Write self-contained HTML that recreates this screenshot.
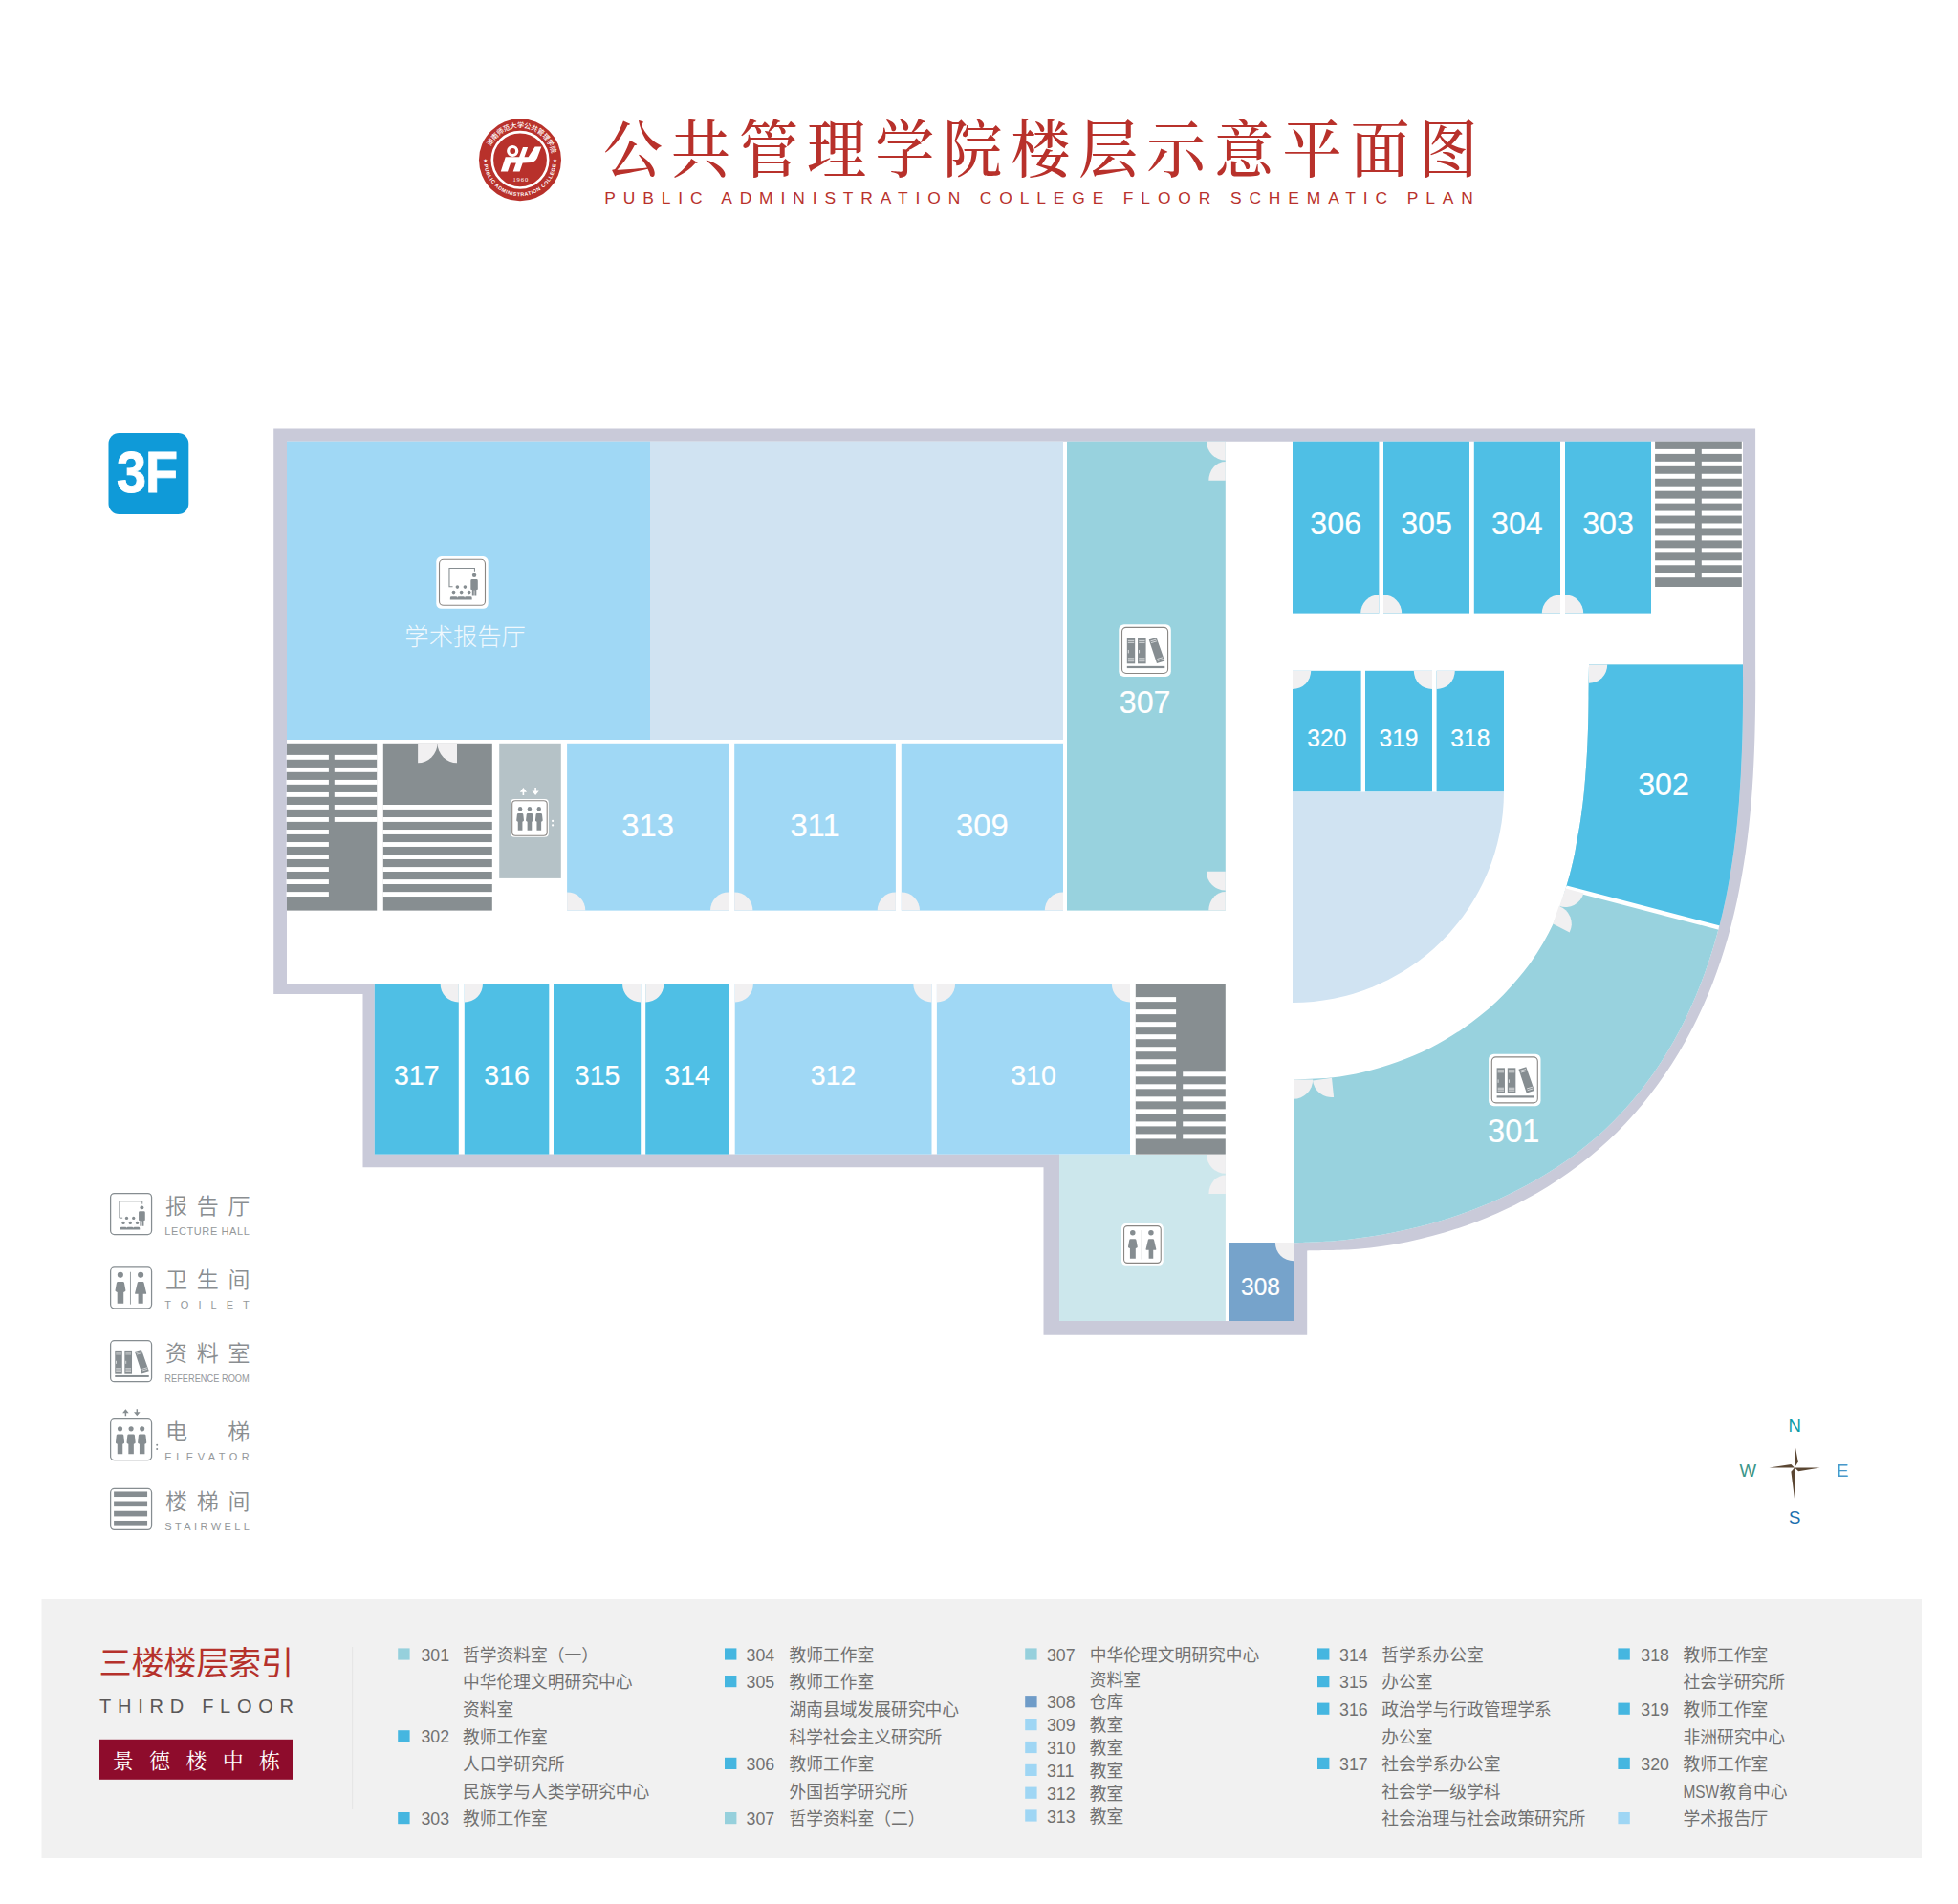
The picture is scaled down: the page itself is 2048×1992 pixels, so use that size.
<!DOCTYPE html>
<html lang="zh-CN"><head><meta charset="utf-8"><title>公共管理学院楼层示意平面图 3F</title>
<style>html,body{margin:0;padding:0;background:#fff}body{width:2048px;height:1992px;overflow:hidden}svg{display:block}text{font-family:"Liberation Sans","Noto Sans CJK SC",sans-serif}.ser{font-family:"Liberation Serif","Noto Serif CJK SC",serif}.rm{fill:#fff;text-anchor:middle;stroke:#fff;stroke-width:.2px}.ix{font-size:17.75px;fill:#717171}.lg{font-size:23px;fill:#8a8e91;font-weight:350}.le{font-size:11px;fill:#94989b}</style></head><body>
<svg width="2048" height="1992" viewBox="0 0 2048 1992">
<rect width="2048" height="1992" fill="#fff"/>
<defs>
<g id="i-lect"><path d="M76.4 26.4V19.9H22.4V59.2H29.7" fill="none" stroke="#868d91" stroke-width="2.2"/><g fill="#868d91"><circle cx="75.6" cy="34.8" r="4.5"/><path d="M70.8 43.5h9.6q2.8 0 2.8 2.8v17.7q0 1.6-1.6 1.6h-1.4v13.1h-4v-12h-1.2v12h-4V65.6h-1.4q-1.6 0-1.6-1.6V46.3q0-2.8 2.8-2.8z"/><circle cx="39.6" cy="59.8" r="3.7"/><circle cx="55.9" cy="59.8" r="3.7"/><circle cx="31.7" cy="71" r="3.7"/><circle cx="48.2" cy="71" r="3.7"/><circle cx="64.6" cy="71" r="3.7"/><path d="M24.2 87.2v-3.5q0-3 3-3h9.5q3 0 3 3q0-3 3-3h9.5q3 0 3 3q0-3 3-3h9.5q3 0 3 3v3.5z"/></g></g>
<g id="i-book"><g fill="#868d91"><rect x="11.9" y="24.4" width="17" height="53.8"/><rect x="34.7" y="24.4" width="17.4" height="53.8"/><path d="M58.5 27.1L74.5 22.4L92.2 72.5L75.3 77.6z"/><rect x="11.9" y="83.4" width="80.3" height="4.5"/></g><g stroke="#fff" stroke-width="1.5" opacity=".9"><path d="M14 29.5h13M14 33.5h13M37 29.5h13M37 33.5h13M14 67h13M14 70h13M14 73h13M37 67h13M37 70h13M37 73h13"/><path d="M62 30.5l12-3.6M63.3 34l12-3.6M76 68.5l12-3.6M77.2 72l12-3.6"/></g><g fill="#fff" opacity=".8"><rect x="14" y="49" width="1.8" height="7"/><rect x="37" y="49" width="1.8" height="7"/></g></g>
<g id="i-toil"><path d="M48.6 12.4V89" stroke="#868d91" stroke-width="1.9"/><g fill="#868d91"><circle cx="24.6" cy="19.4" r="6.9"/><circle cx="72.7" cy="19.4" r="6.9"/><path d="M18.6 35.6h12q2.8 0 3.3 2.8l3.2 17.5q.3 2-1.6 2.8l-3.3 1.5V87.2H17.4V60.2l-3.3-1.5q-1.9-.8-1.6-2.8l3.2-17.5q.5-2.8 3.3-2.8z"/><path d="M67.6 35.6h10.3q2 0 2.5 2L86.3 62.6q.4 2-1.6 2H78.5V87.2H66.9V64.6H60.7q-2 0-1.6-2L65.1 37.6q.5-2 2.5-2z"/></g></g>
<g id="i-elev"><g fill="#868d91"><circle cx="23.8" cy="24.3" r="5.8"/><path d="M18.3 36.9h11q2.5 0 3 2.5l1.8 17q.2 2-1.5 2.6l-2.6 1.4V84H17.6V60.4l-2.6-1.4q-1.7-.6-1.5-2.6l1.8-17q.5-2.5 3-2.5z"/><circle cx="50.0" cy="24.3" r="5.8"/><path d="M44.5 36.9h11q2.5 0 3 2.5l1.8 17q.2 2-1.5 2.6l-2.6 1.4V84H43.8V60.4l-2.6-1.4q-1.7-.6-1.5-2.6l1.8-17q.5-2.5 3-2.5z"/><circle cx="76.2" cy="24.3" r="5.8"/><path d="M70.7 36.9h11q2.5 0 3 2.5l1.8 17q.2 2-1.5 2.6l-2.6 1.4V84H70.0V60.4l-2.6-1.4q-1.7-.6-1.5-2.6l1.8-17q.5-2.5 3-2.5z"/></g></g>
<path id="arr" d="M0.5 0L1 0.58H0.61V1H0.39V0.58H0z"/>
<g id="i-stair"><g fill="#868d91"><rect x="9.3" y="8.3" width="79.1" height="12.6"/><rect x="9.3" y="31" width="79.1" height="12.8"/><rect x="9.3" y="54.2" width="79.1" height="12.8"/><rect x="9.3" y="77.3" width="79.1" height="12.8"/></g></g>
</defs>
<g id="logo">
<circle cx="544.0" cy="167.3" r="43" fill="#b8312b"/>
<circle cx="544.0" cy="167.3" r="29.2" fill="none" stroke="#fff" stroke-width="2.6"/>
<circle cx="536.2" cy="158" r="4.5" fill="none" stroke="#fff" stroke-width="3.2"/>
<path d="M528.7 164.3H543.1L547 154H552.1L548.5 164.3H552.6L559.6 153.5H566.3L561.9 165.3Q559.5 169.6 555.7 170L546.7 170.5L543.6 179.5H536.7L539.8 170.5H534.1L531 179.5H523.8z" fill="#fff"/>
<path id="arcT" d="M513.46 153.06A33.7 33.7 0 0 1 576.96 160.29" fill="none"/>
<path id="arcB" d="M506.33 172.26A38 38 0 0 0 581.67 172.26" fill="none"/>
<text font-size="7.2" fill="#fff" font-weight="500"><textPath href="#arcT" textLength="84.1" lengthAdjust="spacing">湖南师范大学公共管理学院</textPath></text>
<text font-size="5.3" fill="#fff" font-weight="bold"><textPath href="#arcB" textLength="109.4" lengthAdjust="spacing">PUBLIC ADMINISTRATION COLLEGE</textPath></text>
<text x="507.8" y="169.3" font-size="4.5" fill="#fff" text-anchor="middle">★</text><text x="580.6" y="169.3" font-size="4.5" fill="#fff" text-anchor="middle">★</text>
<text class="ser" x="544.8" y="190.2" font-size="6.6" fill="#fff" text-anchor="middle" letter-spacing="0.9">1960</text>
</g>
<text class="ser" transform="translate(631 179.6) scale(0.94 1)" font-size="66" font-weight="500" fill="#b8312b" letter-spacing="9.58">公共管理学院楼层示意平面图</text>
<text x="632.3" y="213" font-size="17.4" fill="#b8312b" textLength="908.5" lengthAdjust="spacing">PUBLIC ADMINISTRATION COLLEGE FLOOR SCHEMATIC PLAN</text>
<rect x="113.5" y="453" width="83.8" height="85" rx="11" fill="#0f9ad8"/>
<text transform="translate(153.6 514.8) scale(0.9 1)" font-size="62" font-weight="bold" fill="#fff" stroke="#fff" stroke-width="0.9" text-anchor="middle" letter-spacing="-1">3F</text>
<path d="M286.2 448.6H1836.1V680C1836.1 688.8 1836.3 715.1 1836.1 732.7C1835.9 750.3 1835.6 767.9 1834.9 785.5C1834.2 803.1 1833.3 820.7 1831.8 838.2C1830.3 855.7 1828.5 873.2 1826.0 890.6C1823.5 908.0 1820.5 925.3 1816.8 942.4C1813.1 959.5 1808.8 976.5 1803.6 993.2C1798.4 1009.9 1792.5 1026.5 1785.7 1042.6C1778.9 1058.7 1771.1 1074.7 1762.5 1090.0C1753.9 1105.3 1744.3 1120.4 1734.0 1134.6C1723.7 1148.8 1712.4 1162.6 1700.4 1175.3C1688.4 1188.0 1675.4 1200.0 1661.8 1211.0C1648.2 1222.0 1633.8 1232.2 1618.9 1241.4C1604.0 1250.6 1588.5 1258.9 1572.6 1266.3C1556.7 1273.7 1540.1 1280.1 1523.4 1285.6C1506.7 1291.1 1489.5 1295.7 1472.3 1299.2C1455.1 1302.7 1437.5 1305.3 1420.0 1306.8C1402.5 1308.3 1376.0 1308.1 1367.2 1308.4V1396.8H1091.5V1221.3H379.5V1040.1H286.2Z" fill="#c9cad9"/>
<path d="M300 461.7H1823V680C1823.0 688.8 1823.2 715.0 1823.0 732.5C1822.8 750.0 1822.6 767.5 1821.9 785.0C1821.2 802.5 1820.4 820.0 1819.0 837.5C1817.6 855.0 1815.9 872.5 1813.5 889.8C1811.1 907.1 1808.3 924.4 1804.7 941.4C1801.1 958.4 1796.9 975.4 1791.8 992.0C1786.7 1008.6 1780.9 1025.1 1774.1 1041.2C1767.3 1057.3 1759.7 1073.2 1751.1 1088.4C1742.5 1103.6 1733.0 1118.5 1722.5 1132.5C1712.0 1146.5 1700.7 1159.9 1688.4 1172.3C1676.1 1184.7 1662.8 1196.2 1648.9 1206.7C1635.0 1217.2 1620.2 1226.8 1605.0 1235.5C1589.8 1244.2 1574.0 1251.9 1557.9 1258.8C1541.8 1265.7 1525.2 1271.7 1508.4 1276.8C1491.6 1281.9 1474.4 1286.2 1457.2 1289.6C1440.0 1293.0 1422.6 1295.6 1405.2 1297.4C1387.8 1299.2 1361.7 1299.8 1353.0 1300.3V1382H1108V1207.6H391.8V1029.3H300Z" fill="#fff"/>
<rect x="300.0" y="461.7" width="380.0" height="312.3" fill="#a0d8f5"/>
<rect x="680.0" y="461.7" width="432.0" height="312.3" fill="#d0e3f2"/>
<rect x="1116.0" y="461.7" width="165.8" height="490.9" fill="#98d2de"/>
<rect x="593.1" y="777.8" width="169.1" height="174.8" fill="#a0d8f5"/>
<rect x="768.2" y="777.8" width="168.7" height="174.8" fill="#a0d8f5"/>
<rect x="942.8" y="777.8" width="169.2" height="174.8" fill="#a0d8f5"/>
<rect x="522.2" y="777.8" width="64.6" height="141.1" fill="#b5c2c7"/>
<rect x="300.0" y="777.8" width="94.2" height="174.8" fill="#878e91"/>
<rect x="400.8" y="777.8" width="114.0" height="174.8" fill="#878e91"/>
<rect x="1352.0" y="461.7" width="90.4" height="179.9" fill="#4fbfe5"/>
<rect x="1447.0" y="461.7" width="90.0" height="179.9" fill="#4fbfe5"/>
<rect x="1541.8" y="461.7" width="90.2" height="179.9" fill="#4fbfe5"/>
<rect x="1637.0" y="461.7" width="90.0" height="179.9" fill="#4fbfe5"/>
<rect x="1731.1" y="461.7" width="90.7" height="152.3" fill="#878e91"/>
<rect x="1352.0" y="701.8" width="71.6" height="126.6" fill="#4fbfe5"/>
<rect x="1428.0" y="701.8" width="70.0" height="126.6" fill="#4fbfe5"/>
<rect x="1502.6" y="701.8" width="70.4" height="126.6" fill="#4fbfe5"/>
<path d="M1352 828.4H1573A221 221 0 0 1 1352 1049Z" fill="#d0e3f2"/>
<rect x="391.8" y="1029.3" width="88.0" height="178.3" fill="#4fbfe5"/>
<rect x="485.8" y="1029.3" width="88.5" height="178.3" fill="#4fbfe5"/>
<rect x="579.0" y="1029.3" width="91.2" height="178.3" fill="#4fbfe5"/>
<rect x="675.2" y="1029.3" width="87.5" height="178.3" fill="#4fbfe5"/>
<rect x="768.7" y="1029.3" width="205.8" height="178.3" fill="#a0d8f5"/>
<rect x="979.9" y="1029.3" width="202.1" height="178.3" fill="#a0d8f5"/>
<rect x="1187.8" y="1029.3" width="94.0" height="178.3" fill="#878e91"/>
<rect x="1108.0" y="1208.0" width="173.9" height="174.0" fill="#cce7ec"/>
<rect x="1285.3" y="1300.0" width="67.9" height="82.0" fill="#76a3cb"/>
<clipPath id="ring"><path d="M1662 695.6H1823V680C1823.0 688.8 1823.2 715.0 1823.0 732.5C1822.8 750.0 1822.6 767.5 1821.9 785.0C1821.2 802.5 1820.4 820.0 1819.0 837.5C1817.6 855.0 1815.9 872.5 1813.5 889.8C1811.1 907.1 1808.3 924.4 1804.7 941.4C1801.1 958.4 1796.9 975.4 1791.8 992.0C1786.7 1008.6 1780.9 1025.1 1774.1 1041.2C1767.3 1057.3 1759.7 1073.2 1751.1 1088.4C1742.5 1103.6 1733.0 1118.5 1722.5 1132.5C1712.0 1146.5 1700.7 1159.9 1688.4 1172.3C1676.1 1184.7 1662.8 1196.2 1648.9 1206.7C1635.0 1217.2 1620.2 1226.8 1605.0 1235.5C1589.8 1244.2 1574.0 1251.9 1557.9 1258.8C1541.8 1265.7 1525.2 1271.7 1508.4 1276.8C1491.6 1281.9 1474.4 1286.2 1457.2 1289.6C1440.0 1293.0 1422.6 1295.6 1405.2 1297.4C1387.8 1299.2 1361.7 1299.8 1353.0 1300.3V1129.5C1359.5 1129.2 1379.8 1128.8 1392.1 1127.5C1404.4 1126.2 1415.2 1124.2 1426.8 1121.4C1438.4 1118.7 1450.0 1115.2 1461.6 1111.0C1473.2 1106.8 1484.7 1102.1 1496.3 1096.2C1507.9 1090.3 1519.4 1083.5 1531.0 1075.4C1542.6 1067.3 1554.1 1058.9 1565.7 1047.6C1577.3 1036.3 1590.7 1021.3 1600.5 1007.7C1610.3 994.1 1618.5 979.5 1624.8 966.0C1631.1 952.5 1635.1 937.6 1638.6 926.6C1642.1 915.6 1643.9 907.1 1645.6 900.0C1647.3 892.9 1647.4 891.0 1648.7 883.7C1650.0 876.4 1652.1 865.8 1653.5 856.0C1654.9 846.2 1656.2 836.0 1657.2 825.0C1658.2 814.0 1659.1 801.5 1659.8 790.0C1660.5 778.5 1660.9 766.0 1661.2 756.0C1661.5 746.0 1661.5 740.1 1661.6 730.0C1661.7 719.9 1661.9 701.3 1662.0 695.6Z"/></clipPath>
<g clip-path="url(#ring)"><rect x="1340" y="670" width="500" height="650" fill="#98d2de"/>
<path d="M1600 600H1900V997.2L1600 918.7Z" fill="#4fbfe5"/>
<path d="M1600 918.7L1900 997.2" stroke="#fff" stroke-width="4.5" fill="none"/></g>
<rect x="299.5" y="789.90" width="44.4" height="4.9" fill="#fff"/>
<rect x="299.5" y="802.92" width="44.4" height="4.9" fill="#fff"/>
<rect x="299.5" y="815.94" width="44.4" height="4.9" fill="#fff"/>
<rect x="299.5" y="828.96" width="44.4" height="4.9" fill="#fff"/>
<rect x="299.5" y="841.98" width="44.4" height="4.9" fill="#fff"/>
<rect x="299.5" y="855.00" width="44.4" height="4.9" fill="#fff"/>
<rect x="299.5" y="868.02" width="44.4" height="4.9" fill="#fff"/>
<rect x="299.5" y="881.04" width="44.4" height="4.9" fill="#fff"/>
<rect x="299.5" y="894.06" width="44.4" height="4.9" fill="#fff"/>
<rect x="299.5" y="907.08" width="44.4" height="4.9" fill="#fff"/>
<rect x="299.5" y="920.10" width="44.4" height="4.9" fill="#fff"/>
<rect x="299.5" y="933.12" width="44.4" height="4.9" fill="#fff"/>
<rect x="349.8" y="789.90" width="44.7" height="4.9" fill="#fff"/>
<rect x="349.8" y="802.92" width="44.7" height="4.9" fill="#fff"/>
<rect x="349.8" y="815.94" width="44.7" height="4.9" fill="#fff"/>
<rect x="349.8" y="828.96" width="44.7" height="4.9" fill="#fff"/>
<rect x="349.8" y="841.98" width="44.7" height="4.9" fill="#fff"/>
<rect x="349.8" y="855.00" width="44.7" height="4.9" fill="#fff"/>
<rect x="400.5" y="842.00" width="114.5" height="4.9" fill="#fff"/>
<rect x="400.5" y="855.02" width="114.5" height="4.9" fill="#fff"/>
<rect x="400.5" y="868.04" width="114.5" height="4.9" fill="#fff"/>
<rect x="400.5" y="881.06" width="114.5" height="4.9" fill="#fff"/>
<rect x="400.5" y="894.08" width="114.5" height="4.9" fill="#fff"/>
<rect x="400.5" y="907.10" width="114.5" height="4.9" fill="#fff"/>
<rect x="400.5" y="920.12" width="114.5" height="4.9" fill="#fff"/>
<rect x="400.5" y="933.14" width="114.5" height="4.9" fill="#fff"/>
<rect x="1730.8" y="469.90" width="42.1" height="5" fill="#fff"/>
<rect x="1779.8" y="469.90" width="43.2" height="5" fill="#fff"/>
<rect x="1730.8" y="482.83" width="42.1" height="5" fill="#fff"/>
<rect x="1779.8" y="482.83" width="43.2" height="5" fill="#fff"/>
<rect x="1730.8" y="495.76" width="42.1" height="5" fill="#fff"/>
<rect x="1779.8" y="495.76" width="43.2" height="5" fill="#fff"/>
<rect x="1730.8" y="508.69" width="42.1" height="5" fill="#fff"/>
<rect x="1779.8" y="508.69" width="43.2" height="5" fill="#fff"/>
<rect x="1730.8" y="521.62" width="42.1" height="5" fill="#fff"/>
<rect x="1779.8" y="521.62" width="43.2" height="5" fill="#fff"/>
<rect x="1730.8" y="534.55" width="42.1" height="5" fill="#fff"/>
<rect x="1779.8" y="534.55" width="43.2" height="5" fill="#fff"/>
<rect x="1730.8" y="547.48" width="42.1" height="5" fill="#fff"/>
<rect x="1779.8" y="547.48" width="43.2" height="5" fill="#fff"/>
<rect x="1730.8" y="560.41" width="42.1" height="5" fill="#fff"/>
<rect x="1779.8" y="560.41" width="43.2" height="5" fill="#fff"/>
<rect x="1730.8" y="573.34" width="42.1" height="5" fill="#fff"/>
<rect x="1779.8" y="573.34" width="43.2" height="5" fill="#fff"/>
<rect x="1730.8" y="586.27" width="42.1" height="5" fill="#fff"/>
<rect x="1779.8" y="586.27" width="43.2" height="5" fill="#fff"/>
<rect x="1730.8" y="599.20" width="42.1" height="5" fill="#fff"/>
<rect x="1779.8" y="599.20" width="43.2" height="5" fill="#fff"/>
<rect x="1187.3" y="1043.10" width="42.8" height="5.0" fill="#fff"/>
<rect x="1187.3" y="1056.13" width="42.8" height="5.0" fill="#fff"/>
<rect x="1187.3" y="1069.16" width="42.8" height="5.0" fill="#fff"/>
<rect x="1187.3" y="1082.19" width="42.8" height="5.0" fill="#fff"/>
<rect x="1187.3" y="1095.22" width="42.8" height="5.0" fill="#fff"/>
<rect x="1187.3" y="1108.25" width="42.8" height="5.0" fill="#fff"/>
<rect x="1187.3" y="1121.28" width="42.8" height="5.0" fill="#fff"/>
<rect x="1187.3" y="1134.31" width="42.8" height="5.0" fill="#fff"/>
<rect x="1187.3" y="1147.34" width="42.8" height="5.0" fill="#fff"/>
<rect x="1187.3" y="1160.37" width="42.8" height="5.0" fill="#fff"/>
<rect x="1187.3" y="1173.40" width="42.8" height="5.0" fill="#fff"/>
<rect x="1187.3" y="1186.43" width="42.8" height="5.0" fill="#fff"/>
<rect x="1237.2" y="1121.28" width="45.0" height="5.0" fill="#fff"/>
<rect x="1237.2" y="1134.31" width="45.0" height="5.0" fill="#fff"/>
<rect x="1237.2" y="1147.34" width="45.0" height="5.0" fill="#fff"/>
<rect x="1237.2" y="1160.37" width="45.0" height="5.0" fill="#fff"/>
<rect x="1237.2" y="1173.40" width="45.0" height="5.0" fill="#fff"/>
<rect x="1237.2" y="1186.43" width="45.0" height="5.0" fill="#fff"/>
<path d="M593.1 952.6L593.1 933.4A19.2 19.2 0 0 1 612.3 952.6Z" fill="#f1f0f1"/>
<path d="M768.2 952.6L768.2 933.4A19.2 19.2 0 0 1 787.4 952.6Z" fill="#f1f0f1"/>
<path d="M942.8 952.6L942.8 933.4A19.2 19.2 0 0 1 962.0 952.6Z" fill="#f1f0f1"/>
<path d="M762.2 952.6L743.0 952.6A19.2 19.2 0 0 1 762.2 933.4Z" fill="#f1f0f1"/>
<path d="M936.9 952.6L917.7 952.6A19.2 19.2 0 0 1 936.9 933.4Z" fill="#f1f0f1"/>
<path d="M1112.0 952.6L1092.8 952.6A19.2 19.2 0 0 1 1112.0 933.4Z" fill="#f1f0f1"/>
<path d="M485.8 1029.3L505.0 1029.3A19.2 19.2 0 0 1 485.8 1048.5Z" fill="#f1f0f1"/>
<path d="M675.2 1029.3L694.4 1029.3A19.2 19.2 0 0 1 675.2 1048.5Z" fill="#f1f0f1"/>
<path d="M768.7 1029.3L787.9 1029.3A19.2 19.2 0 0 1 768.7 1048.5Z" fill="#f1f0f1"/>
<path d="M979.9 1029.3L999.1 1029.3A19.2 19.2 0 0 1 979.9 1048.5Z" fill="#f1f0f1"/>
<path d="M479.8 1029.3L479.8 1048.5A19.2 19.2 0 0 1 460.6 1029.3Z" fill="#f1f0f1"/>
<path d="M670.2 1029.3L670.2 1048.5A19.2 19.2 0 0 1 651.0 1029.3Z" fill="#f1f0f1"/>
<path d="M974.5 1029.3L974.5 1048.5A19.2 19.2 0 0 1 955.3 1029.3Z" fill="#f1f0f1"/>
<path d="M1182.0 1029.3L1182.0 1048.5A19.2 19.2 0 0 1 1162.8 1029.3Z" fill="#f1f0f1"/>
<path d="M1442.4 641.6L1423.2 641.6A19.2 19.2 0 0 1 1442.4 622.4Z" fill="#f1f0f1"/>
<path d="M1632.0 641.6L1612.8 641.6A19.2 19.2 0 0 1 1632.0 622.4Z" fill="#f1f0f1"/>
<path d="M1447.0 641.6L1447.0 622.4A19.2 19.2 0 0 1 1466.2 641.6Z" fill="#f1f0f1"/>
<path d="M1637.0 641.6L1637.0 622.4A19.2 19.2 0 0 1 1656.2 641.6Z" fill="#f1f0f1"/>
<path d="M1352.0 701.8L1371.2 701.8A19.2 19.2 0 0 1 1352.0 721.0Z" fill="#f1f0f1"/>
<path d="M1498.0 701.8L1498.0 721.0A19.2 19.2 0 0 1 1478.8 701.8Z" fill="#f1f0f1"/>
<path d="M1502.6 701.8L1521.8 701.8A19.2 19.2 0 0 1 1502.6 721.0Z" fill="#f1f0f1"/>
<path d="M1662.0 695.6L1681.2 695.6A19.2 19.2 0 0 1 1662.0 714.8Z" fill="#f1f0f1"/>
<path d="M1281.8 461.7L1281.8 481.5A19.8 19.8 0 0 1 1262.0 461.7Z" fill="#f1f0f1"/>
<path d="M1281.8 502.7H1264.3A17.5 19.6 0 0 1 1281.8 483.1Z" fill="#f1f0f1"/>
<path d="M1281.8 911.8L1281.8 931.6A19.8 19.8 0 0 1 1262.0 911.8Z" fill="#f1f0f1"/>
<path d="M1281.8 952.6H1264.3A17.5 19.6 0 0 1 1281.8 933.0Z" fill="#f1f0f1"/>
<path d="M1281.9 1208.0L1281.9 1227.8A19.8 19.8 0 0 1 1262.1 1208.0Z" fill="#f1f0f1"/>
<path d="M1281.9 1249.0H1264.4A17.5 19.6 0 0 1 1281.9 1229.4Z" fill="#f1f0f1"/>
<path d="M1353.2 1300.0L1353.2 1319.3A19.3 19.3 0 0 1 1333.9 1300.0Z" fill="#f1f0f1"/>
<path d="M437.1 777.8L457.5 777.8A20.4 20.4 0 0 1 437.1 798.2Z" fill="#f1f0f1"/>
<path d="M478.0 777.8L478.0 798.2A20.4 20.4 0 0 1 457.6 777.8Z" fill="#f1f0f1"/>
<path d="M1353.0 1129.5L1373.2 1129.5A20.2 20.2 0 0 1 1353.0 1149.7Z" fill="#f1f0f1"/>
<path d="M1393.0 1127.8L1395.1 1147.9A20.2 20.2 0 0 1 1373.0 1130.6Z" fill="#f1f0f1"/>
<path d="M1637.5 929.5L1656.4 934.4A19.5 19.5 0 0 1 1631.2 948.0Z" fill="#f1f0f1"/>
<path d="M1624.3 966.5L1630.6 948.0A19.5 19.5 0 0 1 1641.7 975.4Z" fill="#f1f0f1"/>
<rect x="456.3" y="582.1" width="54.4" height="54.7" rx="5.4" fill="#fff"/><rect x="459.52" y="585.32" width="47.97" height="47.97" rx="4.4" fill="#fff" stroke="#8a8784" stroke-width="1.10"/><use href="#i-lect" transform="translate(458.97 584.77) scale(0.4907)" />
<rect x="1170.3" y="653.2" width="54.5" height="54.7" rx="5.5" fill="#fff"/><rect x="1173.52" y="656.42" width="48.06" height="48.06" rx="4.4" fill="#fff" stroke="#8a8784" stroke-width="1.10"/><use href="#i-book" transform="translate(1172.97 655.87) scale(0.4916)" />
<rect x="1557.1" y="1102.7" width="54.4" height="54.5" rx="5.4" fill="#fff"/><rect x="1560.32" y="1105.92" width="47.97" height="47.97" rx="4.4" fill="#fff" stroke="#8a8784" stroke-width="1.10"/><use href="#i-book" transform="translate(1559.77 1105.37) scale(0.4907)" />
<rect x="1173.0" y="1280.1" width="43.8" height="43.6" rx="4.4" fill="#fff"/><rect x="1175.55" y="1282.65" width="38.70" height="38.70" rx="3.6" fill="#fff" stroke="#8a8784" stroke-width="1.10"/><use href="#i-toil" transform="translate(1175.00 1282.10) scale(0.3980)" />
<rect x="534.0" y="836.0" width="39.9" height="39.7" rx="4.0" fill="#fff"/><rect x="535.70" y="837.70" width="36.50" height="36.50" rx="3.4" fill="#fff" stroke="#8a8784" stroke-width="1.10"/><use href="#i-elev" transform="translate(535.15 837.15) scale(0.3760)" />
<g fill="#fff"><use href="#arr" transform="translate(543.75 824.00) scale(7.30 8.10)"/><use href="#arr" transform="translate(556.45 832.10) scale(7.30 -8.10)"/></g>
<circle cx="578.1" cy="858.9" r="1.1" fill="#fff"/><circle cx="578.1" cy="863.4" r="1.1" fill="#fff"/>
<text class="rm" transform="translate(1397.2 558.5) scale(0.960 1)" font-size="33.5">306</text>
<text class="rm" transform="translate(1492.0 558.5) scale(0.960 1)" font-size="33.5">305</text>
<text class="rm" transform="translate(1586.9 558.5) scale(0.960 1)" font-size="33.5">304</text>
<text class="rm" transform="translate(1682.0 558.5) scale(0.960 1)" font-size="33.5">303</text>
<text class="rm" transform="translate(1387.8 780.9) scale(0.960 1)" font-size="25.6">320</text>
<text class="rm" transform="translate(1463.0 780.9) scale(0.960 1)" font-size="25.6">319</text>
<text class="rm" transform="translate(1537.8 780.9) scale(0.960 1)" font-size="25.6">318</text>
<text class="rm" transform="translate(1740.0 832.0) scale(0.960 1)" font-size="33.5">302</text>
<text class="rm" transform="translate(1197.6 746.2) scale(0.960 1)" font-size="33.5">307</text>
<text class="rm" transform="translate(677.7 875.0) scale(0.970 1)" font-size="33.8">313</text>
<text class="rm" transform="translate(852.5 875.0) scale(0.970 1)" font-size="33.8">311</text>
<text class="rm" transform="translate(1027.4 875.0) scale(0.970 1)" font-size="33.8">309</text>
<text class="rm" transform="translate(435.8 1135.0) scale(0.960 1)" font-size="29.7">317</text>
<text class="rm" transform="translate(530.0 1135.0) scale(0.960 1)" font-size="29.7">316</text>
<text class="rm" transform="translate(624.6 1135.0) scale(0.960 1)" font-size="29.7">315</text>
<text class="rm" transform="translate(719.0 1135.0) scale(0.960 1)" font-size="29.7">314</text>
<text class="rm" transform="translate(871.6 1135.0) scale(0.960 1)" font-size="29.7">312</text>
<text class="rm" transform="translate(1081.0 1135.0) scale(0.960 1)" font-size="29.7">310</text>
<text class="rm" transform="translate(1583.2 1194.6) scale(0.930 1)" font-size="35.0">301</text>
<text class="rm" transform="translate(1318.5 1354.7) scale(0.960 1)" font-size="25.5">308</text>
<text x="486.6" y="675.2" font-size="25.3" font-weight="300" fill="#fff" fill-opacity=".85" text-anchor="middle">学术报告厅</text>
<rect x="115.62" y="1248.62" width="42.95" height="42.95" rx="4.0" fill="#fff" stroke="#868d91" stroke-width="1.25"/><use href="#i-lect" transform="translate(115.00 1248.00) scale(0.4420)" />
<text class="lg" x="173" y="1269.8" letter-spacing="9.8">报告厅</text>
<text class="le" x="172.3" y="1291.8" textLength="88.5" lengthAdjust="spacing">LECTURE HALL</text>
<rect x="115.62" y="1325.92" width="42.95" height="42.95" rx="4.0" fill="#fff" stroke="#868d91" stroke-width="1.25"/><use href="#i-toil" transform="translate(115.00 1325.30) scale(0.4420)" />
<text class="lg" x="173" y="1347.1" letter-spacing="9.8">卫生间</text>
<text class="le" x="172.3" y="1369.1" textLength="88.5" lengthAdjust="spacing">TOILET</text>
<rect x="115.62" y="1402.72" width="42.95" height="42.95" rx="4.0" fill="#fff" stroke="#868d91" stroke-width="1.25"/><use href="#i-book" transform="translate(115.00 1402.10) scale(0.4420)" />
<text class="lg" x="173" y="1423.9" letter-spacing="9.8">资料室</text>
<text class="le" x="172.3" y="1445.9" textLength="88.5" lengthAdjust="spacingAndGlyphs">REFERENCE ROOM</text>
<rect x="115.62" y="1484.72" width="42.95" height="42.95" rx="4.0" fill="#fff" stroke="#868d91" stroke-width="1.25"/><use href="#i-elev" transform="translate(115.00 1484.10) scale(0.4420)" />
<g fill="#868d91"><use href="#arr" transform="translate(128.10 1474.30) scale(6.60 6.90)"/><use href="#arr" transform="translate(140.00 1481.20) scale(6.60 -6.90)"/></g>
<circle cx="164.2" cy="1511.8" r="1" fill="#868d91"/><circle cx="164.2" cy="1515.9" r="1" fill="#868d91"/>
<text class="lg" x="173" y="1505.9">电</text><text class="lg" x="238.2" y="1505.9">梯</text>
<text class="le" x="172.3" y="1527.9" textLength="88.5" lengthAdjust="spacing">ELEVATOR</text>
<rect x="115.62" y="1557.42" width="42.95" height="42.95" rx="4.0" fill="#fff" stroke="#868d91" stroke-width="1.25"/><use href="#i-stair" transform="translate(115.00 1556.80) scale(0.4420)" />
<text class="lg" x="173" y="1578.6" letter-spacing="9.8">楼梯间</text>
<text class="le" x="172.3" y="1600.6" textLength="88.5" lengthAdjust="spacing">STAIRWELL</text>
<g fill="#5a4632"><path d="M1877 1509.5L1880.8 1529.5L1877 1535.6Z"/><path d="M1850.5 1535.4L1873.4 1532L1877 1535.6Z"/><path d="M1877 1567.8L1873.4 1539.7L1877 1535.6Z"/><path d="M1903.6 1535.4L1881.1 1539.2L1877 1535.6Z"/></g>
<g font-size="18.6" text-anchor="middle"><text x="1877.2" y="1498.3" fill="#0c9ca8">N</text><text x="1828.2" y="1545.3" fill="#3a968a">W</text><text x="1927.2" y="1545.3" fill="#4a97c9">E</text><text x="1877.2" y="1594.3" fill="#1b6fae">S</text></g>
<rect x="43.5" y="1673" width="1966.5" height="271" fill="#f1f1f1"/>
<text x="103.6" y="1752.3" font-size="34.2" fill="#b5312b" font-weight="400" textLength="203.5" lengthAdjust="spacing">三楼楼层索引</text>
<text x="104" y="1792.3" font-size="20" fill="#595757" textLength="203" lengthAdjust="spacing">THIRD FLOOR</text>
<rect x="104" y="1819.8" width="202" height="42" fill="#8e0c2c"/>
<text class="ser" x="117.8" y="1849.5" font-size="22" fill="#fff" letter-spacing="16.3">景德楼中栋</text>
<rect x="368.3" y="1723" width="0.8" height="170" fill="#e2e2e2"/>
<rect x="416.2" y="1724.4" width="12.4" height="12.2" fill="#96d0dc"/>
<text class="ix" x="440.4" y="1737.5">301</text>
<text class="ix" x="484.1" y="1737.7">哲学资料室（一）</text>
<text class="ix" x="484.1" y="1766.3">中华伦理文明研究中心</text>
<text class="ix" x="484.1" y="1794.9">资料室</text>
<rect x="416.2" y="1810.2" width="12.4" height="12.2" fill="#45b6e0"/>
<text class="ix" x="440.4" y="1823.3">302</text>
<text class="ix" x="484.1" y="1823.5">教师工作室</text>
<text class="ix" x="484.1" y="1852.1">人口学研究所</text>
<text class="ix" x="484.1" y="1880.7">民族学与人类学研究中心</text>
<rect x="416.2" y="1896.0" width="12.4" height="12.2" fill="#45b6e0"/>
<text class="ix" x="440.4" y="1909.1">303</text>
<text class="ix" x="484.1" y="1909.3">教师工作室</text>
<rect x="758.0" y="1724.4" width="12.4" height="12.2" fill="#45b6e0"/>
<text class="ix" x="780.6" y="1737.5">304</text>
<text class="ix" x="825.4" y="1737.7">教师工作室</text>
<rect x="758.0" y="1753.0" width="12.4" height="12.2" fill="#45b6e0"/>
<text class="ix" x="780.6" y="1766.1">305</text>
<text class="ix" x="825.4" y="1766.3">教师工作室</text>
<text class="ix" x="825.4" y="1794.9">湖南县域发展研究中心</text>
<text class="ix" x="825.4" y="1823.5">科学社会主义研究所</text>
<rect x="758.0" y="1838.8" width="12.4" height="12.2" fill="#45b6e0"/>
<text class="ix" x="780.6" y="1851.9">306</text>
<text class="ix" x="825.4" y="1852.1">教师工作室</text>
<text class="ix" x="825.4" y="1880.7">外国哲学研究所</text>
<rect x="758.0" y="1896.0" width="12.4" height="12.2" fill="#96d0dc"/>
<text class="ix" x="780.6" y="1909.1">307</text>
<text class="ix" x="825.4" y="1909.3">哲学资料室（二）</text>
<rect x="1072.2" y="1724.4" width="12.4" height="12.2" fill="#96d0dc"/>
<text class="ix" x="1095.0" y="1737.5">307</text>
<text class="ix" x="1139.8" y="1737.7">中华伦理文明研究中心</text>
<text class="ix" x="1139.8" y="1763.9">资料室</text>
<rect x="1072.2" y="1774.1" width="12.4" height="12.2" fill="#6f9cc8"/>
<text class="ix" x="1095.0" y="1787.2">308</text>
<text class="ix" x="1139.8" y="1787.4">仓库</text>
<rect x="1072.2" y="1798.0" width="12.4" height="12.2" fill="#9fd6f4"/>
<text class="ix" x="1095.0" y="1811.1">309</text>
<text class="ix" x="1139.8" y="1811.3">教室</text>
<rect x="1072.2" y="1821.9" width="12.4" height="12.2" fill="#9fd6f4"/>
<text class="ix" x="1095.0" y="1835.0">310</text>
<text class="ix" x="1139.8" y="1835.2">教室</text>
<rect x="1072.2" y="1845.8" width="12.4" height="12.2" fill="#9fd6f4"/>
<text class="ix" x="1095.0" y="1858.9">311</text>
<text class="ix" x="1139.8" y="1859.1">教室</text>
<rect x="1072.2" y="1869.6" width="12.4" height="12.2" fill="#9fd6f4"/>
<text class="ix" x="1095.0" y="1882.7">312</text>
<text class="ix" x="1139.8" y="1882.9">教室</text>
<rect x="1072.2" y="1893.4" width="12.4" height="12.2" fill="#9fd6f4"/>
<text class="ix" x="1095.0" y="1906.5">313</text>
<text class="ix" x="1139.8" y="1906.7">教室</text>
<rect x="1378.0" y="1724.4" width="12.4" height="12.2" fill="#45b6e0"/>
<text class="ix" x="1401.1" y="1737.5">314</text>
<text class="ix" x="1445.3" y="1737.7">哲学系办公室</text>
<rect x="1378.0" y="1753.0" width="12.4" height="12.2" fill="#45b6e0"/>
<text class="ix" x="1401.1" y="1766.1">315</text>
<text class="ix" x="1445.3" y="1766.3">办公室</text>
<rect x="1378.0" y="1781.6" width="12.4" height="12.2" fill="#45b6e0"/>
<text class="ix" x="1401.1" y="1794.7">316</text>
<text class="ix" x="1445.3" y="1794.9">政治学与行政管理学系</text>
<text class="ix" x="1445.3" y="1823.5">办公室</text>
<rect x="1378.0" y="1838.8" width="12.4" height="12.2" fill="#45b6e0"/>
<text class="ix" x="1401.1" y="1851.9">317</text>
<text class="ix" x="1445.3" y="1852.1">社会学系办公室</text>
<text class="ix" x="1445.3" y="1880.7">社会学一级学科</text>
<text class="ix" x="1445.3" y="1909.3">社会治理与社会政策研究所</text>
<rect x="1692.4" y="1724.4" width="12.4" height="12.2" fill="#45b6e0"/>
<text class="ix" x="1716.3" y="1737.5">318</text>
<text class="ix" x="1760.4" y="1737.7">教师工作室</text>
<text class="ix" x="1760.4" y="1766.3">社会学研究所</text>
<rect x="1692.4" y="1781.6" width="12.4" height="12.2" fill="#45b6e0"/>
<text class="ix" x="1716.3" y="1794.7">319</text>
<text class="ix" x="1760.4" y="1794.9">教师工作室</text>
<text class="ix" x="1760.4" y="1823.5">非洲研究中心</text>
<rect x="1692.4" y="1838.8" width="12.4" height="12.2" fill="#45b6e0"/>
<text class="ix" x="1716.3" y="1851.9">320</text>
<text class="ix" x="1760.4" y="1852.1">教师工作室</text>
<text class="ix" transform="translate(1760.4 1880.7) scale(0.87 1)">MSW</text>
<text class="ix" x="1798.4" y="1880.7">教育中心</text>
<rect x="1692.4" y="1896.0" width="12.4" height="12.2" fill="#9fd6f4"/>
<text class="ix" x="1760.4" y="1909.3">学术报告厅</text>
</svg></body></html>
